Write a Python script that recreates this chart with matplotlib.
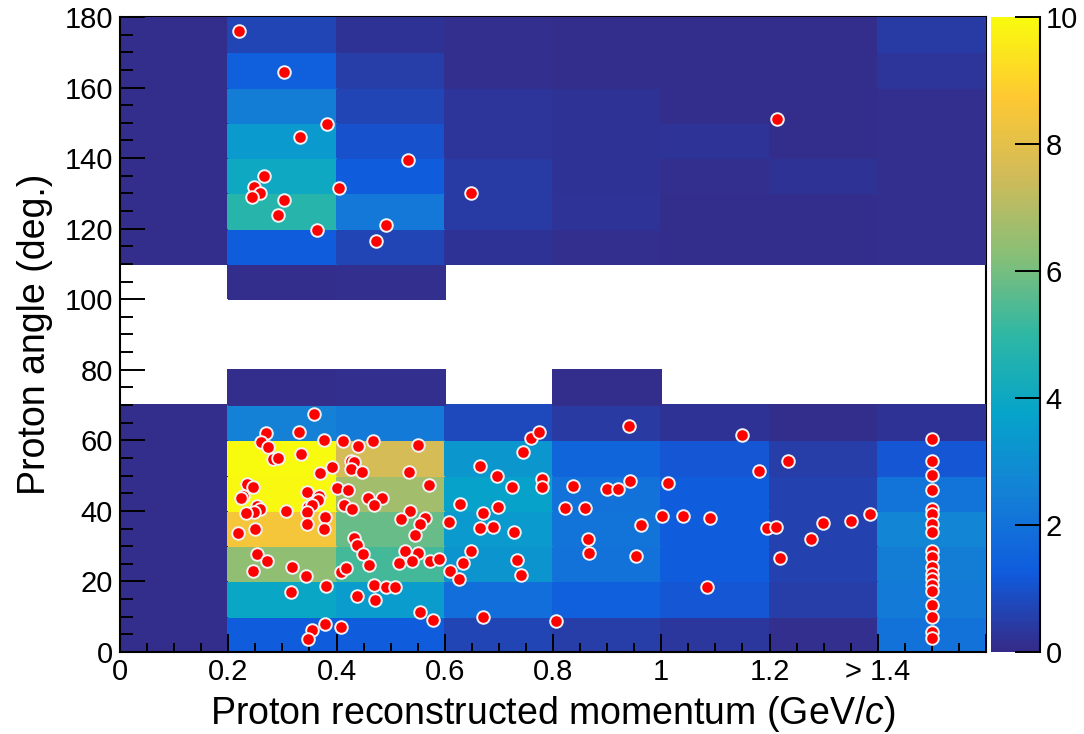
import numpy as np
import matplotlib
matplotlib.use('Agg')
import matplotlib.pyplot as plt
from matplotlib.colors import LinearSegmentedColormap

plt.rcParams['font.family'] = ['Liberation Sans', 'DejaVu Sans']
plt.rcParams['mathtext.fontset'] = 'custom'
plt.rcParams['mathtext.it'] = 'Liberation Sans:italic'
plt.rcParams['mathtext.rm'] = 'Liberation Sans'

# bin edges
p_edges = [0.0, 0.2, 0.4, 0.6, 0.8, 1.0, 1.2, 1.4, 1.6]
theta_edges = list(range(0, 190, 10))

# counts per bin, one list per 10 deg row (0-10 ... 170-180), columns = momentum bins
# 0 = empty bin (not drawn)
counts = [
    [0.1, 1.3, 1.3, 0.7, 0.5, 0.35, 0.15, 2.0],   # 0-10
    [0.1, 3.9, 3.5, 1.9, 1.4, 1.1, 0.5, 2.3],     # 10-20
    [0.1, 6.4, 5.3, 3.2, 2.0, 1.3, 0.6, 2.4],     # 20-30
    [0.1, 8.5, 5.8, 3.4, 2.1, 1.3, 0.6, 2.7],     # 30-40
    [0.1, 9.9, 6.7, 3.7, 2.0, 1.3, 0.6, 2.1],     # 40-50
    [0.1, 10.0, 7.6, 3.3, 1.6, 1.1, 0.5, 1.1],    # 50-60
    [0.1, 2.5, 2.3, 0.8, 0.4, 0.2, 0.1, 0.2],     # 60-70
    [0.0, 0.1, 0.15, 0.0, 0.1, 0.0, 0.0, 0.0],    # 70-80
    [0.0, 0.0, 0.0, 0.0, 0.0, 0.0, 0.0, 0.0],     # 80-90
    [0.0, 0.0, 0.0, 0.0, 0.0, 0.0, 0.0, 0.0],     # 90-100
    [0.0, 0.1, 0.15, 0.0, 0.0, 0.0, 0.0, 0.0],    # 100-110
    [0.1, 1.3, 0.7, 0.2, 0.15, 0.1, 0.1, 0.12],   # 110-120
    [0.1, 4.8, 2.2, 0.45, 0.25, 0.1, 0.1, 0.12],  # 120-130
    [0.1, 4.0, 1.3, 0.45, 0.2, 0.15, 0.2, 0.12],  # 130-140
    [0.1, 3.4, 1.0, 0.3, 0.2, 0.25, 0.1, 0.12],   # 140-150
    [0.1, 2.4, 0.7, 0.3, 0.2, 0.1, 0.1, 0.12],    # 150-160
    [0.1, 1.4, 0.5, 0.15, 0.1, 0.1, 0.1, 0.3],    # 160-170
    [0.1, 0.7, 0.2, 0.15, 0.1, 0.1, 0.1, 0.45],   # 170-180
]

# individual events (momentum GeV/c, angle deg)
event_p = [
    0.219, 0.303, 0.382, 0.332, 0.532, 0.266, 0.248, 0.258, 0.243, 0.405,
    0.303, 0.292, 0.364, 0.491, 0.473, 0.649, 1.214,
    0.358, 0.270, 0.330, 0.376, 0.261, 0.274, 0.412, 0.439, 0.468, 0.335,
    0.282, 0.291, 0.426, 0.433, 0.426, 0.447, 0.391, 0.369, 0.234, 0.245,
    0.228, 0.223, 0.345, 0.368, 0.401, 0.422, 0.365, 0.459, 0.484, 0.469,
    0.254, 0.259, 0.248, 0.233, 0.306, 0.348, 0.354, 0.345, 0.413, 0.428,
    0.378, 0.345, 0.376, 0.218, 0.250, 0.433, 0.438, 0.449, 0.460, 0.254,
    0.271, 0.246, 0.318, 0.344, 0.409, 0.418, 0.380, 0.470, 0.492, 0.316,
    0.438, 0.472, 0.378, 0.354, 0.347, 0.409,
    0.551, 0.534, 0.571, 0.535, 0.520, 0.563, 0.555, 0.545, 0.526, 0.551,
    0.540, 0.515, 0.572, 0.589, 0.508, 0.554, 0.579, 0.608, 0.629, 0.670,
    0.699, 0.665, 0.689, 0.728, 0.649, 0.633, 0.610, 0.627, 0.734, 0.741,
    0.665, 0.697, 0.725, 0.745, 0.760, 0.774, 0.779, 0.779, 0.670, 0.805,
    0.941, 0.837, 0.900, 0.920, 0.943, 1.012, 0.823, 0.859, 0.865, 0.867,
    0.962, 0.953, 1.001, 1.040, 1.090, 1.085, 1.149, 1.180, 1.196,
    1.235, 1.212, 1.219, 1.276, 1.299, 1.351, 1.386,
    1.5, 1.5, 1.5, 1.5, 1.5, 1.5, 1.5, 1.5, 1.5, 1.5,
    1.5, 1.5, 1.5, 1.5, 1.5, 1.5, 1.5, 1.5, 1.5,
]
event_theta = [
    175.9, 164.3, 149.7, 146.1, 139.5, 134.9, 131.9, 130.2, 129.0, 131.4,
    128.1, 124.0, 119.6, 120.9, 116.6, 130.2, 151.1,
    67.4, 62.2, 62.4, 60.2, 59.5, 58.0, 59.7, 58.4, 59.8, 56.1,
    54.6, 55.1, 54.2, 54.0, 51.8, 50.9, 52.5, 50.6, 47.6, 46.9,
    44.3, 43.6, 45.3, 44.3, 46.6, 45.9, 43.1, 43.7, 43.7, 41.7,
    41.5, 40.5, 39.8, 39.5, 39.9, 41.2, 41.7, 39.8, 41.6, 40.4,
    38.4, 36.4, 35.0, 33.8, 34.9, 32.4, 30.3, 27.8, 24.7, 27.9,
    25.8, 23.1, 24.2, 21.6, 22.6, 23.7, 18.6, 18.9, 18.3, 16.9,
    15.9, 14.7, 8.0, 6.1, 3.8, 7.2,
    58.7, 51.1, 47.3, 40.1, 37.7, 38.1, 36.2, 33.2, 28.7, 28.2,
    25.9, 25.3, 25.8, 26.4, 18.5, 11.2, 9.0, 36.8, 41.9, 39.3,
    41.0, 35.1, 35.3, 33.9, 28.7, 25.2, 22.9, 20.7, 26.2, 21.8,
    52.7, 50.0, 46.9, 56.7, 60.6, 62.5, 48.9, 46.9, 9.9, 8.8,
    64.1, 47.1, 46.2, 46.2, 48.6, 48.0, 40.9, 40.7, 31.9, 28.2,
    36.0, 27.2, 38.5, 38.5, 38.1, 18.4, 61.4, 51.4, 35.2,
    54.2, 35.4, 26.7, 32.1, 36.7, 37.1, 39.1,
    60.5, 54.2, 50.2, 45.8, 40.6, 39.2, 36.2, 34.1, 28.6, 26.9,
    24.1, 22.0, 20.6, 18.9, 17.4, 13.3, 9.8, 5.8, 3.9,
]

p_tick_labels = ['0', '0.2', '0.4', '0.6', '0.8', '1', '1.2', '> 1.4', '']

# ROOT kBird palette
stops = [0.0, 0.125, 0.25, 0.375, 0.5, 0.625, 0.75, 0.875, 1.0]
red = [0.2082, 0.0592, 0.0780, 0.0232, 0.1802, 0.5301, 0.8186, 0.9956, 0.9764]
green = [0.1664, 0.3599, 0.5041, 0.6419, 0.7178, 0.7492, 0.7328, 0.7862, 0.9832]
blue = [0.5293, 0.8684, 0.8385, 0.7914, 0.6425, 0.4662, 0.3499, 0.1968, 0.0539]
bird = LinearSegmentedColormap.from_list(
    'bird', [(s, (r, g, b)) for s, r, g, b in zip(stops, red, green, blue)], N=256)

fig = plt.figure(figsize=(10.84, 7.34), dpi=100)
ax = fig.add_axes([120 / 1084, 82 / 734, 866 / 1084, 635 / 734])
cax = fig.add_axes([991 / 1084, 82 / 734, 49 / 1084, 635 / 734])

H = np.ma.masked_equal(np.array(counts), 0.0)
mesh = ax.pcolormesh(p_edges, theta_edges, H, cmap=bird, vmin=0, vmax=10,
                     zorder=1, edgecolors='face', linewidth=0.2)
ax.scatter(event_p, event_theta, s=82, c='#ff0000', edgecolors='#f2f2f2',
           linewidths=1.4, zorder=3)

ax.set_xlim(0, 1.6)
ax.set_ylim(0, 180)
ax.set_xticks(np.arange(0, 1.61, 0.2))
ax.set_xticklabels(p_tick_labels)
ax.set_xticks(np.arange(0, 1.6, 0.05), minor=True)
ax.set_yticks(np.arange(0, 181, 20))
ax.set_yticks(np.arange(0, 181, 5), minor=True)
ax.tick_params(axis='both', which='both', direction='in', top=False, right=False,
               labelsize=21, width=1.4, color='black')
ax.tick_params(axis='x', which='major', length=13, pad=4)
ax.tick_params(axis='x', which='minor', length=6.5)
ax.tick_params(axis='y', which='major', length=18, pad=5)
ax.tick_params(axis='y', which='minor', length=9.5)
for side in ['left', 'bottom']:
    ax.spines[side].set_linewidth(1.5)
for side in ['right', 'top']:
    ax.spines[side].set_linewidth(1.5)
    ax.spines[side].set_zorder(0.5)

ax.set_xlabel(r'Proton reconstructed momentum (GeV/$c$)', fontsize=27, labelpad=6)
ax.set_ylabel('Proton angle (deg.)', fontsize=27, labelpad=8)

cbar = fig.colorbar(mesh, cax=cax)
cbar.outline.set_visible(False)
cbar.set_ticks([0, 2, 4, 6, 8, 10])
cax.tick_params(axis='y', direction='in', length=18, width=1.4, labelsize=21, pad=4)
cax.plot([1, 1], [0, 1], transform=cax.transAxes, color='black', lw=1.5, clip_on=False)

fig.savefig('out.png', dpi=100)
